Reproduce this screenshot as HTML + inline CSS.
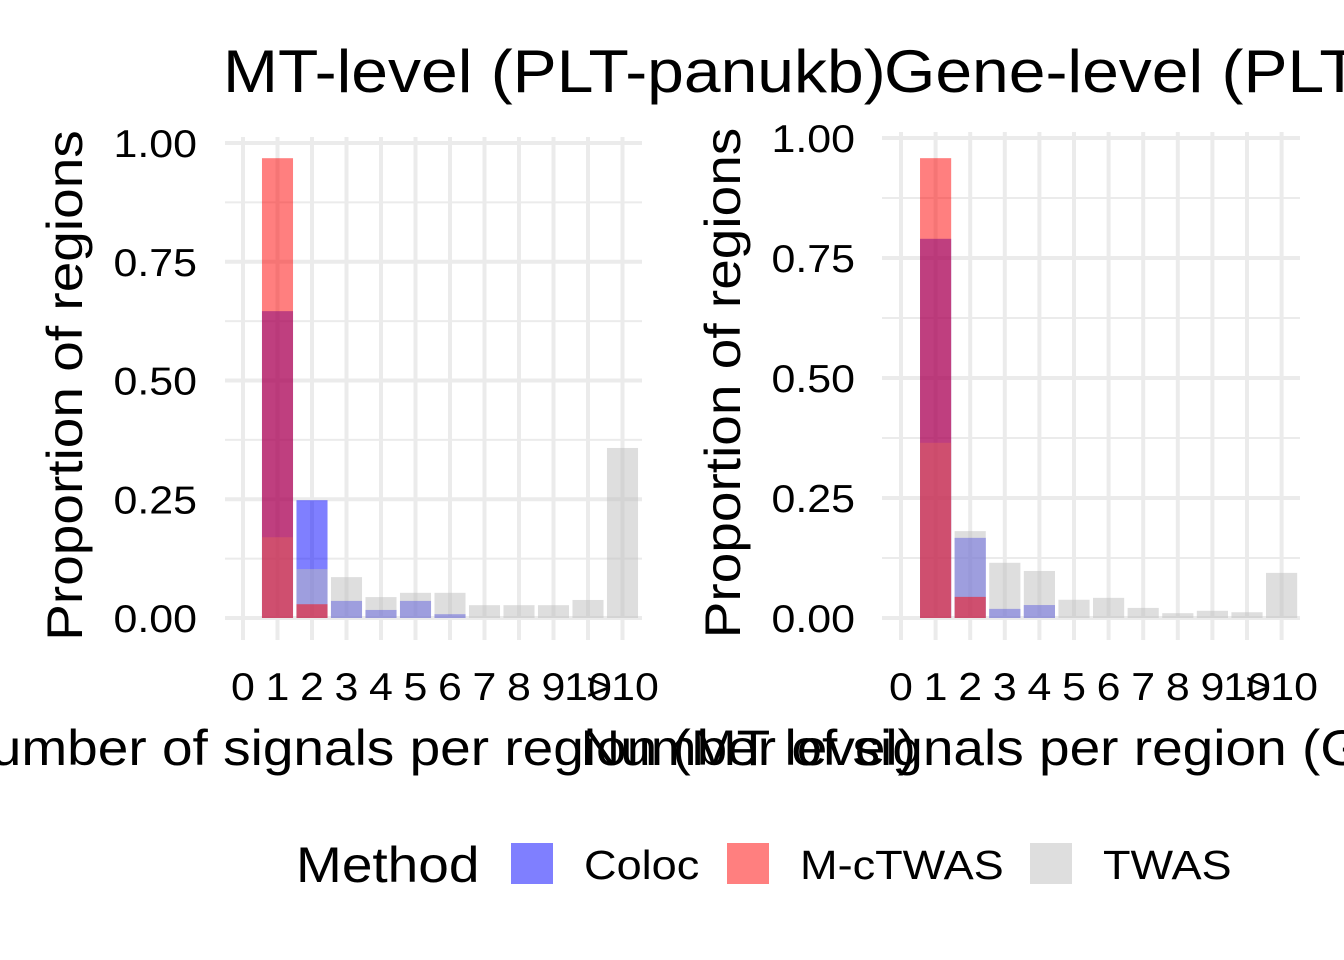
<!DOCTYPE html>
<html><head><meta charset="utf-8"><style>
body{margin:0;background:#fff;}
svg{display:block;font-family:"Liberation Sans",sans-serif;}
</style></head><body>
<svg id="chart" width="1344" height="960"></svg>
<script>
const categories=["0","1","2","3","4","5","6","7","8","9","10",">10"];
const yTicks=[0,0.25,0.5,0.75,1];
const yTickLabels=["0.00","0.25","0.50","0.75","1.00"];
const leftTwas=[null,0.17,0.103,0.086,0.044,0.053,0.053,0.027,0.027,0.027,0.038,0.358];
const leftColoc=[null,0.646,0.248,0.036,0.017,0.036,0.008,null,null,null,null,null];
const leftMctwas=[null,0.968,0.029,null,null,null,null,null,null,null,null,null];
const rightTwas=[null,0.365,0.181,0.115,0.098,0.038,0.042,0.021,0.01,0.015,0.012,0.094];
const rightColoc=[null,0.79,0.167,0.019,0.027,null,null,null,null,null,null,null];
const rightMctwas=[null,0.958,0.044,null,null,null,null,null,null,null,null,null];

const NS="http://www.w3.org/2000/svg";
const svg=document.getElementById('chart');
const texts=[];
function mk(tag,attrs,parent){const e=document.createElementNS(NS,tag);for(const k in attrs)e.setAttribute(k,attrs[k]);(parent||svg).appendChild(e);if(tag==='text')texts.push(e);return e;}

function panel(p){
  const g=mk('g',{});
  
  
  const xs=i=>p.x0+i*p.step;
  const ys=v=>p.y0-v*p.unit;
  for(let i=0;i<yTicks.length-1;i++){
    const v=(yTicks[i]+yTicks[i+1])/2;
    const l=mk('line',{x1:p.left,x2:p.right,y1:ys(v),y2:ys(v),stroke:'#ebebeb','stroke-width':2},g);
    
    
  }
  yTicks.forEach((v,i)=>{
    const l=mk('line',{x1:p.left,x2:p.right,y1:ys(v),y2:ys(v),stroke:'#ebebeb','stroke-width':4},g);
    
    
    const t=mk('text',{x:p.labelX,y:ys(v)+14,'text-anchor':'end','font-size':39,fill:'#000'},g);
    t.textContent=yTickLabels[i];
    
    
  });
  categories.forEach((c,i)=>{
    const l=mk('line',{x1:xs(i),x2:xs(i),y1:p.top,y2:p.bottom,stroke:'#ebebeb','stroke-width':4},g);
    
    
    const t=mk('text',{x:xs(i),y:700,'text-anchor':'middle','font-size':39,fill:'#000'},g);
    t.textContent=c;
    
    
  });
  const series=[[p.coloc,'rgba(0,0,255,0.5)','bar-coloc'],[p.twas,'rgba(190,190,190,0.5)','bar-twas'],[p.mctwas,'rgba(255,0,0,0.5)','bar-mctwas']];
  const bw=p.step*0.9;
  series.forEach(([arr,col,nm])=>{
    arr.forEach((v,i)=>{
      if(v==null)return;
      const r=mk('rect',{x:xs(i)-bw/2,y:ys(v),width:bw,height:v*p.unit,fill:col},g);
      
      
    });
  });
  const yt=mk('text',{x:0,y:0,transform:`translate(${p.ytX},${p.y0-0.5*p.unit+5}) rotate(-90)`,'text-anchor':'middle','font-size':50,fill:'#000'},g);
  yt.textContent='Proportion of regions';
  
  
  const xt=mk('text',{x:(p.left+p.right)/2,y:765,'text-anchor':'middle','font-size':50,fill:'#000'},g);
  xt.textContent=p.xtitle;
  
  
  const tt=mk('text',{x:p.titleX,y:92,'font-size':60,fill:'#000'},g);
  tt.textContent=p.title;
  
  
}
panel({name:'panel-mt-level',x0:243,step:34.5,y0:618,unit:475,left:225,right:642,top:137,bottom:640,labelX:197,ytX:82,
  twas:leftTwas,coloc:leftColoc,mctwas:leftMctwas,xtitle:'Number of signals per region (MT level)',title:'MT-level (PLT-panukb)',titleX:223});
panel({name:'panel-gene-level',x0:901,step:34.6,y0:618,unit:480,left:882,right:1300,top:132,bottom:640,labelX:855,ytX:740,
  twas:rightTwas,coloc:rightColoc,mctwas:rightMctwas,xtitle:'Number of signals per region (Gene level)',title:'Gene-level (PLT-panukb)',titleX:884});

const lg=mk('g',{});


const lt=mk('text',{x:296,y:882,'font-size':50,fill:'#000'},lg);
lt.textContent='Method';


const entries=[['Coloc','rgba(0,0,255,0.5)',511,584],['M-cTWAS','rgba(255,0,0,0.5)',727,800],['TWAS','rgba(190,190,190,0.5)',1030,1103]];
entries.forEach(([n,c,kx,tx])=>{
  const r=mk('rect',{x:kx,y:843,width:42,height:41,fill:c},lg);
  
  
  const t=mk('text',{x:tx,y:879,'font-size':41,fill:'#000'},lg);
  t.textContent=n;
  
  
});
texts.forEach(t=>{
  const w=t.getComputedTextLength();
  if(w>0){t.setAttribute('textLength',w*1.1);t.setAttribute('lengthAdjust','spacingAndGlyphs');}
});
</script>
</body></html>
